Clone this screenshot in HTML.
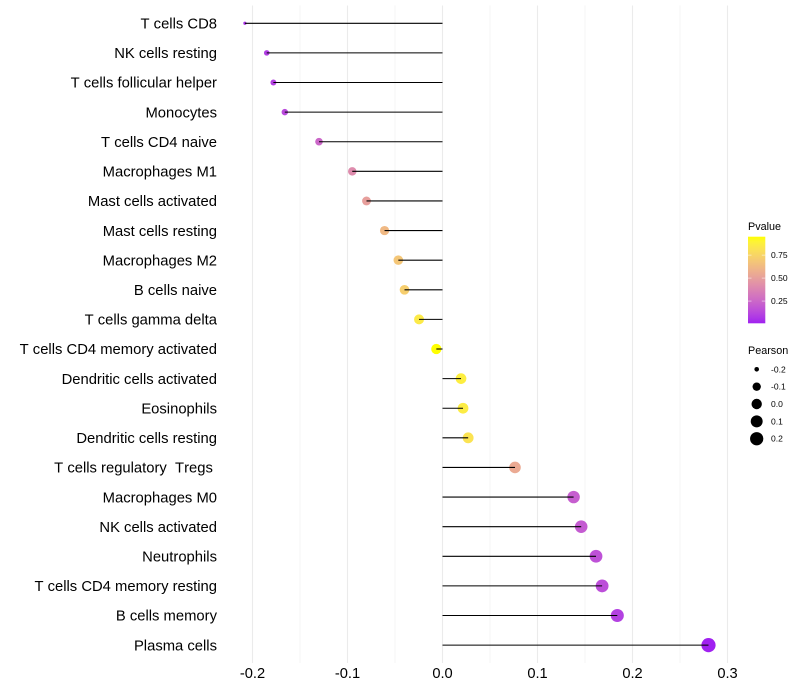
<!DOCTYPE html>
<html>
<head>
<meta charset="utf-8">
<title>Immune cell correlation lollipop chart</title>
<style>
html,body{margin:0;padding:0;background:#fff;width:800px;height:700px;overflow:hidden}
svg{display:block}
text{font-family:"Liberation Sans",sans-serif;fill:#000;white-space:pre;font-kerning:none}
</style>
</head>
<body>
<svg id="chart" xmlns="http://www.w3.org/2000/svg" width="800" height="700" viewBox="0 0 800 700">
  <defs>
    <linearGradient id="pv-grad" x1="0" y1="1" x2="0" y2="0"></linearGradient>
  </defs>
  <g id="grid"></g>
  <g id="series"></g>
  <g id="ylabels"></g>
  <g id="xlabels"></g>
  <g id="legend-color"></g>
  <g id="legend-size"></g>
</svg>
<script>
const categories = ["T cells CD8","NK cells resting","T cells follicular helper","Monocytes","T cells CD4 naive","Macrophages M1","Mast cells activated","Mast cells resting","Macrophages M2","B cells naive","T cells gamma delta","T cells CD4 memory activated","Dendritic cells activated","Eosinophils","Dendritic cells resting","T cells regulatory  Tregs ","Macrophages M0","NK cells activated","Neutrophils","T cells CD4 memory resting","B cells memory","Plasma cells"];
const pearson = [-0.208,-0.185,-0.178,-0.166,-0.13,-0.095,-0.08,-0.061,-0.0465,-0.04,-0.0247,-0.0065,0.0195,0.0216,0.027,0.0763,0.138,0.146,0.1616,0.168,0.184,0.28];
const pvalues = [0.06,0.09,0.1,0.13,0.25,0.41,0.5,0.62,0.68,0.72,0.85,0.95,0.87,0.86,0.82,0.55,0.21,0.2,0.16,0.15,0.1,0.01];
const majorTicks = [-0.2,-0.1,0,0.1,0.2,0.3];
const minorTicks = [-0.15,-0.05,0.05,0.15,0.25];
const colorBreaks = [0.25,0.5,0.75];
const sizeBreaks = [-0.2,-0.1,0,0.1,0.2];

const NS = "http://www.w3.org/2000/svg";
function mk(tag, attrs, parent) {
  const el = document.createElementNS(NS, tag);
  for (const k in attrs) el.setAttribute(k, attrs[k]);
  parent.appendChild(el);
  return el;
}
// axis functions
function xScale(v) { return 442.5 + v * 950; }
function yScale(i) { return 23.28 + i * 29.611; }
const pMin = 0.008, pMax = 0.95;
function pScale(p) { return 323.3 - (p - pMin) / (pMax - pMin) * 86.6; }
const sMin = Math.min(...pearson), sMax = Math.max(...pearson);
function radius(v) {
  const t = Math.max(0, (v - sMin) / (sMax - sMin));
  return 1.6 + 5.5 * Math.sqrt(t);
}
// Lab colour ramp from purple to yellow
function toLab(hex) {
  const c = [1,3,5].map(i => parseInt(hex.substr(i,2),16)/255).map(u => u <= 0.04045 ? u/12.92 : Math.pow((u+0.055)/1.055,2.4));
  const X = (0.4124564*c[0]+0.3575761*c[1]+0.1804375*c[2])/0.95047;
  const Y = 0.2126729*c[0]+0.7151522*c[1]+0.072175*c[2];
  const Z = (0.0193339*c[0]+0.119192*c[1]+0.9503041*c[2])/1.08883;
  const f = t => t > 0.008856 ? Math.cbrt(t) : 7.787*t + 16/116;
  return [116*f(Y)-16, 500*(f(X)-f(Y)), 200*(f(Y)-f(Z))];
}
const labLow = toLab("#a020f0"), labHigh = toLab("#ffff00");
function ramp(t) {
  t = Math.min(1, Math.max(0, t));
  const L = labLow[0]+(labHigh[0]-labLow[0])*t, a = labLow[1]+(labHigh[1]-labLow[1])*t, b = labLow[2]+(labHigh[2]-labLow[2])*t;
  const fy = (L+16)/116, fx = fy + a/500, fz = fy - b/200;
  const g = t3 => { const c = t3*t3*t3; return c > 0.008856 ? c : (t3-16/116)/7.787; };
  const X = 0.95047*g(fx), Y = g(fy), Z = 1.08883*g(fz);
  const lin = [3.2404542*X-1.5371385*Y-0.4985314*Z, -0.969266*X+1.8760108*Y+0.041556*Z, 0.0556434*X-0.2040259*Y+1.0572252*Z];
  const out = lin.map(u => { u = Math.min(1, Math.max(0, u)); return Math.round(255*(u <= 0.0031308 ? 12.92*u : 1.055*Math.pow(u,1/2.4)-0.055)); });
  return "rgb(" + out.join(",") + ")";
}
function pColor(p) { return ramp((p - pMin) / (pMax - pMin)); }

const grid = document.getElementById("grid");
const series = document.getElementById("series");
const ylabels = document.getElementById("ylabels");
const xlabels = document.getElementById("xlabels");
const legendColor = document.getElementById("legend-color");
const legendSize = document.getElementById("legend-size");
const top0 = 5.5, bottom0 = 663;

minorTicks.forEach(function (t) {
  const el = mk("line", {x1:xScale(t), x2:xScale(t), y1:top0, y2:bottom0, stroke:"#ebebeb", "stroke-width":0.53}, grid);
  
  
});
majorTicks.forEach(function (t) {
  const el = mk("line", {x1:xScale(t), x2:xScale(t), y1:top0, y2:bottom0, stroke:"#ebebeb", "stroke-width":1.07}, grid);
  
  
  const lab = mk("text", {x:xScale(t), y:678, "text-anchor":"middle", "font-size":"14.67"}, xlabels);
  lab.textContent = t.toFixed(1);
  
  
});
categories.forEach(function (c, i) {
  const lab = mk("text", {x:217, y:yScale(i)+5.2, "text-anchor":"end", "font-size":"14.8"}, ylabels);
  lab.textContent = c;
  
  
  const pt = mk("circle", {cx:xScale(pearson[i]), cy:yScale(i), r:radius(pearson[i]), fill:pColor(pvalues[i])}, series);
  
  
  const seg = mk("line", {x1:xScale(0), x2:xScale(pearson[i]), y1:yScale(i), y2:yScale(i), stroke:"#000", "stroke-width":1.07}, series);
  
  
});

// colour legend
const grad = document.getElementById("pv-grad");
for (let k = 0; k <= 20; k++) {
  mk("stop", {offset:(k*5)+"%", "stop-color":ramp(k/20)}, grad);
}
const t1 = mk("text", {x:748, y:230, "font-size":"10.8"}, legendColor);
t1.textContent = "Pvalue";


const bar = mk("rect", {x:748, y:236.7, width:17.3, height:86.6, fill:"url(#pv-grad)"}, legendColor);


colorBreaks.forEach(function (b) {
  const y = pScale(b);
  mk("line", {x1:748, x2:751.5, y1:y, y2:y, stroke:"#fff", "stroke-width":0.5}, legendColor);
  mk("line", {x1:761.8, x2:765.3, y1:y, y2:y, stroke:"#fff", "stroke-width":0.5}, legendColor);
  const lab = mk("text", {x:771, y:y+3, "font-size":"8.53"}, legendColor);
  lab.textContent = b.toFixed(2);
  
  
});

// size legend
const t2 = mk("text", {x:748, y:354, "font-size":"10.8"}, legendSize);
t2.textContent = "Pearson";


sizeBreaks.forEach(function (b, i) {
  const y = 369.3 + i * 17.35;
  const dot = mk("circle", {cx:756.7, cy:y, r:radius(b), fill:"#000"}, legendSize);
  
  
  const lab = mk("text", {x:771, y:y+3, "font-size":"8.53"}, legendSize);
  lab.textContent = b.toFixed(1);
  
  
});
</script>
</body>
</html>
